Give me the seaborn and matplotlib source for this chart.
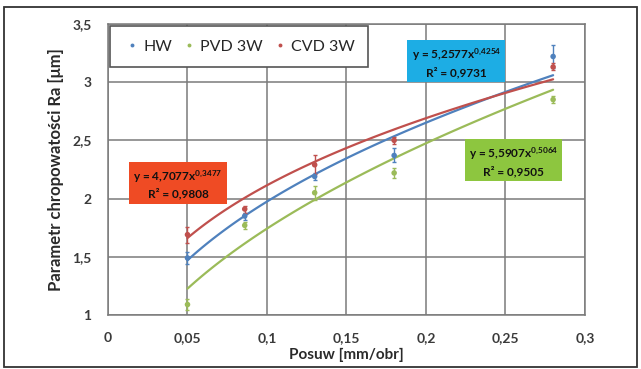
import numpy as np
import pandas as pd
import matplotlib
matplotlib.use("Agg")
import matplotlib.pyplot as plt
from matplotlib.patches import Rectangle
from matplotlib.ticker import FuncFormatter, MultipleLocator
import seaborn as sns

# feed values [mm/obr]
feed = [0.05, 0.086, 0.13, 0.18, 0.28]

# measured Ra [um]
ra_hw = [1.49, 1.85, 2.19, 2.37, 3.22]
ra_pvd = [1.09, 1.77, 2.05, 2.22, 2.85]
ra_cvd = [1.69, 1.91, 2.29, 2.50, 3.13]

# error bar half-widths
err_hw = [0.05, 0.03, 0.03, 0.06, 0.10]
err_pvd = [0.05, 0.03, 0.06, 0.04, 0.03]
err_cvd = [0.07, 0.03, 0.08, 0.03, 0.03]

series = ["HW", "PVD 3W", "CVD 3W"]
colors = ["#4F81BD", "#9BBB59", "#C0504D"]

# power trend lines y = a * x^b, as printed on the chart
fit_a = [5.2577, 5.5907, 4.7077]
fit_b = [0.4254, 0.5064, 0.3477]
fit_r2 = ["0,9731", "0,9505", "0,9808"]
box_colors = ["#1DADE4", "#8DC63F", "#EF4B24"]
box_pos = [(0.219, 3.17), (0.255, 2.32), (0.044, 2.125)]

sns.set_theme(style="white")
plt.rcParams["font.family"] = ["Lato", "DejaVu Sans"]
plt.rcParams["mathtext.default"] = "regular"

df = pd.DataFrame({
    "feed": feed * 3,
    "ra": ra_hw + ra_pvd + ra_cvd,
    "err": err_hw + err_pvd + err_cvd,
    "series": [s for s in series for _ in feed],
})

fig = plt.figure(figsize=(6.41, 3.69), dpi=100)
ax = fig.add_axes([0.1685, 0.1463, 0.744, 0.789])

# trend lines
xs = np.linspace(0.05, 0.28, 100)
for s, c, a, b in zip(series, colors, fit_a, fit_b):
    sns.lineplot(x=xs, y=a * xs ** b, color=c, lw=1.6, ax=ax, legend=False)

# error bars
for s, c in zip(series, colors):
    sub = df[df["series"] == s]
    ax.errorbar(sub["feed"], sub["ra"], yerr=sub["err"], fmt="none",
                ecolor=c, elinewidth=1, capsize=1.5, zorder=3)

sns.scatterplot(data=df, x="feed", y="ra", hue="series", hue_order=series,
                palette=colors, s=16, edgecolor="none", ax=ax, zorder=4)

ax.set_xlim(0, 0.3)
ax.set_ylim(1, 3.5)
ax.xaxis.set_major_locator(MultipleLocator(0.05))
ax.yaxis.set_major_locator(MultipleLocator(0.5))
fmt = FuncFormatter(lambda v, p: ("%g" % round(v, 3)).replace(".", ","))
ax.xaxis.set_major_formatter(fmt)
ax.yaxis.set_major_formatter(fmt)
ax.grid(True, color="#7a7a7a", lw=1.1)
for sp in ax.spines.values():
    sp.set_color("#7a7a7a")
    sp.set_linewidth(1.1)
ax.tick_params(axis="both", length=5, width=1, color="#7a7a7a",
               labelsize=10, labelcolor="#3a3a3a", pad=7)
for lab in ax.get_xticklabels() + ax.get_yticklabels():
    lab.set_fontweight("bold")
ax.set_xlabel("Posuw [mm/obr]", fontsize=11, fontweight="bold", color="#2a2a2a", labelpad=3)
ax.set_ylabel("Parametr chropowatości Ra [μm]", fontsize=12, fontweight="bold",
              color="#2a2a2a", labelpad=6)

handles, labels = ax.get_legend_handles_labels()
leg = ax.legend(handles, labels, ncol=3, loc="upper left", bbox_to_anchor=(0.004, 0.993),
                borderaxespad=0, fontsize=11.5, frameon=True, fancybox=False, framealpha=1,
                edgecolor="#555555", handletextpad=0.15, columnspacing=0.5,
                handlelength=1.1, borderpad=0.85, markerscale=0.7)
leg.get_frame().set_linewidth(1.2)

for a, b, r2, bc, (bx, by) in zip(fit_a, fit_b, fit_r2, box_colors, box_pos):
    txt = ("y = %s" % ("%.4f" % a).replace(".", ",")) + "x$^{%s}$" % ("%.4f" % b).replace(".", "{,}")
    ax.text(bx, by, txt + "\nR² = " + r2, ha="center", va="center", fontsize=8.5,
            fontweight="bold", color="#111111", linespacing=1.3,
            bbox=dict(boxstyle="square,pad=0.35", fc=bc, ec="none"), zorder=5)

fig.patches.append(Rectangle((0.006, 0.006), 0.988, 0.974, transform=fig.transFigure,
                             fill=False, ec="#333333", lw=1.3))

fig.savefig("out.png", dpi=100)
